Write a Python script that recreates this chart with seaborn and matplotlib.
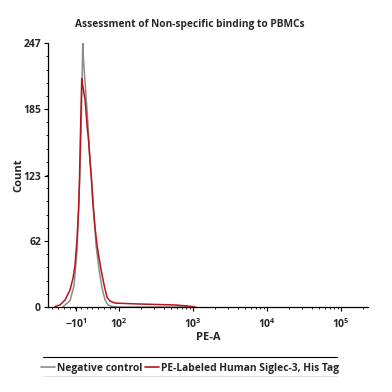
"""
Flow cytometry overlay histogram: non-specific binding of PE-labeled Siglec-3 to PBMCs.
x positions are in biexponential display units (1 unit = one decade on the log part).
"""
import numpy as np
import pandas as pd
import matplotlib.pyplot as plt
import seaborn as sns
from matplotlib.lines import Line2D

sns.set_theme(style="white")
plt.rcParams['font.family'] = ['Open Sans', 'DejaVu Sans']
plt.rcParams['mathtext.fontset'] = 'custom'
plt.rcParams['mathtext.rm'] = 'Open Sans'
plt.rcParams['mathtext.bf'] = 'Open Sans:bold'

# --- data ---
neg_pos = [1.24, 1.338, 1.392, 1.432, 1.459, 1.480, 1.493, 1.503, 1.510, 1.520,
           1.534, 1.554, 1.581, 1.608, 1.635, 1.662, 1.689, 1.730, 1.770, 1.811,
           1.851, 1.905, 2.0, 3.0]
neg_count = [0, 6, 20, 53, 100, 147, 184, 222, 247, 231,
             217, 198, 170, 137, 114, 86, 58, 35, 18, 6.5,
             2, 0.5, 0, 0]

pe_pos = [1.135, 1.203, 1.270, 1.338, 1.378, 1.405, 1.432, 1.453, 1.466, 1.480,
          1.491, 1.496, 1.507, 1.520, 1.541, 1.568, 1.588, 1.608, 1.622, 1.649,
          1.676, 1.703, 1.730, 1.757, 1.797, 1.838, 1.878, 1.946, 2.081, 2.284,
          2.554, 2.757, 2.919, 3.03]
pe_count = [0.5, 2, 6.5, 16, 27, 39, 63, 91, 119, 166,
            198, 214, 208, 203, 194, 170, 156, 137, 125, 95,
            74, 58, 46, 35, 21, 9, 5.6, 3.7, 3.3, 2.8,
            2.3, 1.9, 1, 0]

series_names = ["Negative control", "PE-Labeled Human Siglec-3, His Tag"]
series_colors = ["#8c8c8c", "#b8141c"]

x_tick_pos = [1.42, 2.0, 3.0, 4.0, 5.0]
x_tick_labels = [r"$\mathbf{-10^{1}}$", r"$\mathbf{10^{2}}$", r"$\mathbf{10^{3}}$",
                 r"$\mathbf{10^{4}}$", r"$\mathbf{10^{5}}$"]
y_ticks = [0, 62, 123, 185, 247]

df = pd.concat([
    pd.DataFrame({"pos": neg_pos, "count": neg_count, "sample": series_names[0]}),
    pd.DataFrame({"pos": pe_pos, "count": pe_count, "sample": series_names[1]}),
])

fig = plt.figure(figsize=(3.92, 3.92), dpi=100)
ax = fig.add_axes([0.1224, 0.2168, 0.8166, 0.6732])

sns.lineplot(data=df, x="pos", y="count", hue="sample", palette=series_colors,
             estimator=None, sort=True, linewidth=1.1, ax=ax, legend=False)

ax.set_xlim(1.04, 5.365)
ax.set_ylim(0, 247)
ax.set_xticks(x_tick_pos)
ax.set_xticklabels(x_tick_labels, fontsize=7.5)
ax.set_yticks(y_ticks)
ax.set_yticklabels([str(v) for v in y_ticks], fontsize=7.5, fontweight='bold')

# minor ticks (log decades + linear region)
minor_x = [d + np.log10(k) for d in range(2, 6) for k in range(2, 10)]
minor_x += list(np.linspace(1.1, 1.95, 12))
ax.set_xticks([m for m in minor_x if m < 5.365], minor=True)
ax.set_yticks(np.arange(0, 247, 12.35), minor=True)

ax.tick_params(axis='both', which='major', length=3, width=0.8, color='black',
               direction='out', pad=2)
ax.tick_params(axis='x', which='major', pad=4)
ax.tick_params(axis='both', which='minor', length=1.5, width=0.6, color='black',
               direction='out')
ax.tick_params(axis='x', bottom=True, which='both')
ax.tick_params(axis='y', left=True, which='both')

for side in ['top', 'right']:
    ax.spines[side].set_visible(False)
for side in ['left', 'bottom']:
    ax.spines[side].set_color('black')
    ax.spines[side].set_linewidth(0.9)

ax.set_xlabel("PE-A", fontsize=8, fontweight='bold', labelpad=1)
ax.set_ylabel("Count", fontsize=8, fontweight='bold', labelpad=-1)
fig.text(190 / 392, 1 - 24 / 392, "Assessment of Non-specific binding to PBMCs",
         fontsize=7.25, fontweight='bold', ha='center', va='center')

# legend box below the plot
handles = [Line2D([0], [0], color=c, lw=1.2) for c in series_colors]
leg = fig.legend(handles, series_names, loc='center', bbox_to_anchor=(0.485, 0.061),
                 ncol=2, frameon=False, handlelength=1.3,
                 handletextpad=0.2, columnspacing=0.3,
                 prop={'weight': 'bold', 'size': 7.4})
fig.add_artist(Line2D([0.11, 0.86], [0.089, 0.089], color='black', lw=0.8))
fig.add_artist(Line2D([0.11, 0.86], [0.042, 0.042], color='#dddddd', lw=0.6))

fig.savefig("out.png", dpi=100)
